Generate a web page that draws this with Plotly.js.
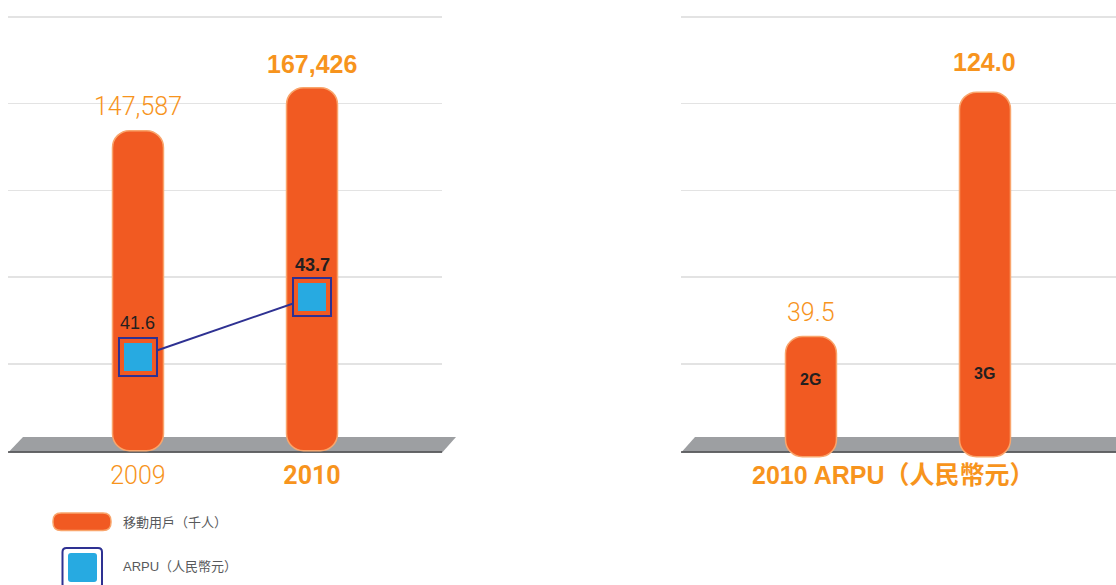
<!DOCTYPE html>
<html>
<head>
<meta charset="utf-8">
<script src="https://cdn.plot.ly/plotly-3.0.1.min.js"></script>
<style>html,body{margin:0;padding:0;background:#fff;}#chart{width:1116px;height:585px;}</style>
</head>
<body>
<div id="chart"></div>
<script>
// ---- data ----
const years = ['2009', '2010'];
const subscribers = [147587, 167426];          // 移動用戶（千人）
const arpuByYear = [41.6, 43.7];                // ARPU（人民幣元）
const networkTypes = ['2G', '3G'];
const arpuByType = [39.5, 124.0];               // 2010 ARPU（人民幣元）

// ---- style ----
const W = 1116, H = 585;
const ORANGE = '#f15a22', PEACH = '#f9a56c', TXT_OR = '#f7941d';
const NAVY = '#2e3192', BLUE = '#27aae1';
const SANS = '"Liberation Sans", "Noto Sans CJK TC", sans-serif';
const LIGHT = 'Roboto, "Liberation Sans", sans-serif';
const CJK = '"Noto Sans CJK TC", "Liberation Sans", sans-serif';
const px = x => x / W, py = y => 1 - y / H;

const PLOT_BOTTOM = 458;                 // px
const ZERO_PX = 450.7;
const yDomain = [1 - PLOT_BOTTOM / H, 1];

// axis scales (px per data unit)
const kL = (ZERO_PX - 17) / 200000;
const kR = (ZERO_PX - 17) / 150;
const kA = 60 / 2.1;

function pill(xs, vals, b0, xa, ya) {
  return {
    type: 'bar', x: xs, y: vals.map(v => v - b0), base: b0, xaxis: xa, yaxis: ya,
    width: 0.293, hoverinfo: 'skip', showlegend: false,
    marker: {color: ORANGE, cornerradius: 17, line: {color: PEACH, width: 1.5}}
  };
}

const traces = [
  pill(years, subscribers, 0, 'x', 'y'),
  pill(networkTypes, arpuByType, -6 / kR, 'x2', 'y2'),
  {
    type: 'scatter', mode: 'lines+markers', x: years, y: arpuByYear, xaxis: 'x', yaxis: 'y3',
    line: {color: NAVY, width: 2},
    marker: {symbol: 'square', size: 38, color: ORANGE, line: {color: NAVY, width: 2}},
    hoverinfo: 'skip', showlegend: false
  }, {
    type: 'scatter', mode: 'markers', x: years, y: arpuByYear, xaxis: 'x', yaxis: 'y3',
    marker: {symbol: 'square', size: 28, color: BLUE, line: {width: 0}},
    hoverinfo: 'skip', showlegend: false
  }
];

const boldFont = {family: SANS, size: 25, color: TXT_OR, weight: 700};
const lightFont = {family: LIGHT, size: 25, color: TXT_OR, weight: 300};
const annotations = [];
subscribers.forEach((v, i) => annotations.push({
  x: i, y: v, xref: 'x', yref: 'y', yanchor: 'middle', yshift: 24, showarrow: false,
  text: v.toLocaleString('en-US'), font: i === 1 ? boldFont : lightFont
}));
arpuByType.forEach((v, i) => annotations.push({
  x: i, y: v, xref: 'x2', yref: 'y2', yanchor: 'middle', yshift: i === 1 ? 30 : 24, showarrow: false,
  text: v.toFixed(1), font: i === 1 ? boldFont : lightFont
}));
arpuByYear.forEach((v, i) => annotations.push({
  x: i, y: v, xref: 'x', yref: 'y3', yanchor: 'middle', yshift: i === 1 ? 32 : 34, showarrow: false,
  text: v.toFixed(1),
  font: {family: SANS, size: 18, color: '#231f20', weight: i === 1 ? 700 : 400}
}));
networkTypes.forEach((t, i) => annotations.push({
  x: i, y: 0, xref: 'x2', yref: 'y2', yanchor: 'middle', yshift: i === 1 ? 77 : 71, showarrow: false,
  text: '<b>' + t + '</b>', font: {family: SANS, size: 16, color: '#231f20'}
}));
annotations.push({
  x: px(893), y: py(475), xref: 'paper', yref: 'paper', xanchor: 'center', yanchor: 'middle', showarrow: false,
  text: '<b>2010 ARPU（人民幣元）</b>', font: {family: SANS, size: 25, color: TXT_OR}
});
annotations.push({
  x: px(121), y: py(521.5), xref: 'paper', yref: 'paper', xanchor: 'left', yanchor: 'middle', showarrow: false,
  text: '移動用戶（千人）', font: {family: CJK, size: 13, color: '#58595b'}
});
annotations.push({
  x: px(121), y: py(566.5), xref: 'paper', yref: 'paper', xanchor: 'left', yanchor: 'middle', showarrow: false,
  text: 'ARPU（人民幣元）', font: {family: SANS, size: 13, color: '#58595b'}
});

function poly(pts) {
  return 'M' + pts.map(p => px(p[0]) + ',' + py(p[1])).join('L') + 'Z';
}
function rrect(x0, y0, x1, y1, r) {
  const P = (x, y) => px(x) + ',' + py(y);
  return 'M' + P(x0 + r, y0) + 'L' + P(x1 - r, y0) + 'Q' + P(x1, y0) + ' ' + P(x1, y0 + r) +
    'L' + P(x1, y1 - r) + 'Q' + P(x1, y1) + ' ' + P(x1 - r, y1) +
    'L' + P(x0 + r, y1) + 'Q' + P(x0, y1) + ' ' + P(x0, y1 - r) +
    'L' + P(x0, y0 + r) + 'Q' + P(x0, y0) + ' ' + P(x0 + r, y0) + 'Z';
}

const shapes = [
  {type: 'path', xref: 'paper', yref: 'paper', layer: 'below', path: poly([[8, 452.7], [23, 437], [456, 437], [442, 452.7]]),
    fillcolor: '#9d9fa2', line: {width: 0}},
  {type: 'line', xref: 'paper', yref: 'paper', layer: 'below', x0: px(8), x1: px(442), y0: py(452), y1: py(452),
    line: {color: '#4d4d4f', width: 1.5}},
  {type: 'path', xref: 'paper', yref: 'paper', layer: 'below', path: poly([[681, 452.7], [695, 437], [1116, 437], [1116, 452.7]]),
    fillcolor: '#9d9fa2', line: {width: 0}},
  {type: 'line', xref: 'paper', yref: 'paper', layer: 'below', x0: px(681), x1: px(1116), y0: py(452), y1: py(452),
    line: {color: '#4d4d4f', width: 1.5}},
  // legend swatches
  {type: 'path', xref: 'paper', yref: 'paper', path: rrect(53, 513, 111, 530.5, 8),
    fillcolor: ORANGE, line: {color: PEACH, width: 1.5}},
  {type: 'path', xref: 'paper', yref: 'paper', path: rrect(62.5, 548, 102, 588, 4),
    fillcolor: 'rgba(0,0,0,0)', line: {color: NAVY, width: 2}},
  {type: 'path', xref: 'paper', yref: 'paper', path: rrect(68, 553, 97, 582, 3),
    fillcolor: BLUE, line: {width: 0}}
];

const gridCommon = {showticklabels: false, ticks: '', zeroline: false, showline: false,
  gridcolor: '#e3e3e3', gridwidth: 1.5, tickmode: 'array'};

const layout = {
  width: W, height: H, margin: {l: 0, r: 0, t: 0, b: 0},
  paper_bgcolor: '#fff', plot_bgcolor: 'rgba(0,0,0,0)',
  barmode: 'overlay', showlegend: false,
  xaxis: {domain: [px(8), px(442)], type: 'category', range: [-0.747, 1.747], anchor: 'y',
    showgrid: false, zeroline: false, showline: false, ticks: '',
    tickmode: 'array', tickvals: years, ticktext: ['2009', '<b>2010</b>'],
    tickfont: {family: LIGHT, size: 25, color: TXT_OR, weight: 300}},
  yaxis: Object.assign({domain: yDomain, anchor: 'x', range: [-(PLOT_BOTTOM - ZERO_PX) / kL, 200000 + 17 / kL],
    tickvals: [40000, 80000, 120000, 160000, 200000]}, gridCommon),
  yaxis3: {overlaying: 'y', anchor: 'x', visible: false, showgrid: false,
    range: [41.6 - (PLOT_BOTTOM - 357) / kA, 41.6 + 357 / kA]},
  xaxis2: {domain: [px(681), 1], type: 'category', range: [-0.747, 1.753], anchor: 'y2',
    showgrid: false, zeroline: false, showline: false, showticklabels: false, ticks: ''},
  yaxis2: Object.assign({domain: yDomain, anchor: 'x2', range: [-(PLOT_BOTTOM - ZERO_PX) / kR, 150 + 17 / kR],
    tickvals: [30, 60, 90, 120, 150]}, gridCommon),
  annotations: annotations,
  shapes: shapes
};

Plotly.newPlot('chart', traces, layout, {displayModeBar: false, staticPlot: true});
</script>
</body>
</html>
